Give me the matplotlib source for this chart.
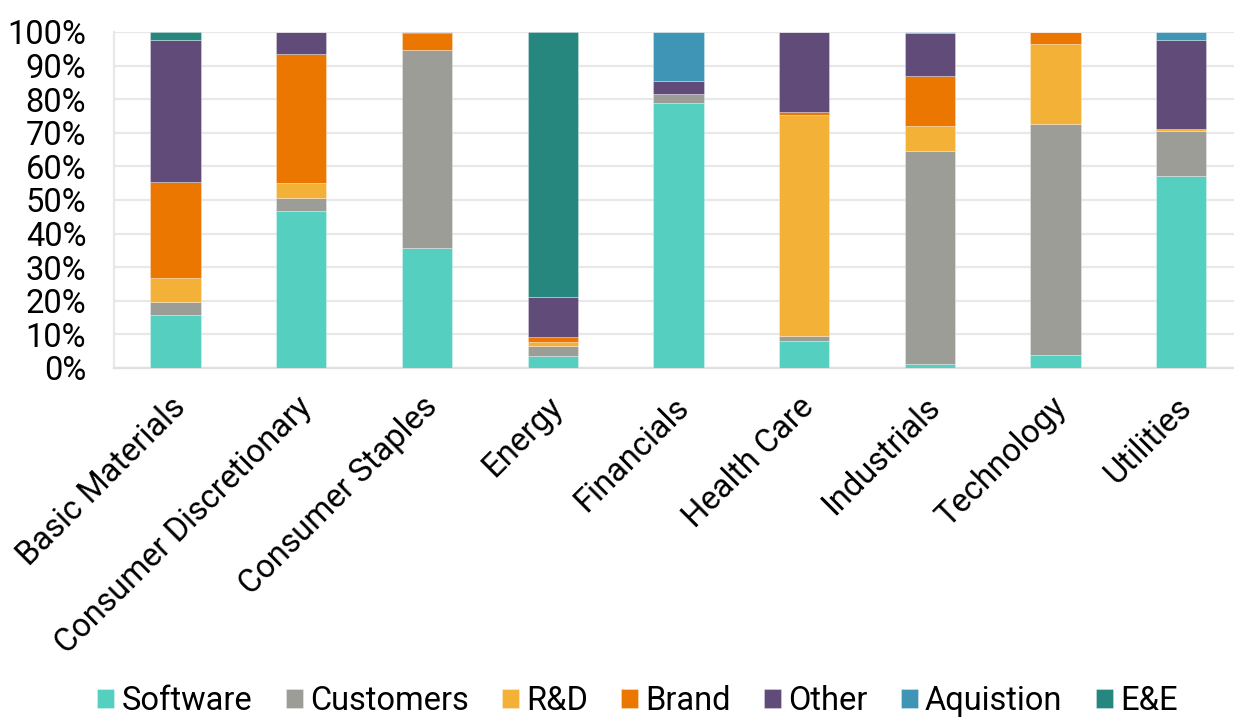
import matplotlib.pyplot as plt
import matplotlib.transforms as mtransforms
import numpy as np
from matplotlib.ticker import PercentFormatter

plt.rcParams['font.family'] = ['Roboto', 'DejaVu Sans']

sectors = ["Basic Materials", "Consumer Discretionary", "Consumer Staples", "Energy",
           "Financials", "Health Care", "Industrials", "Technology", "Utilities"]

# share of intangibles by type, % per sector
software   = [15.7, 46.7, 35.8, 3.5, 78.8, 8.1, 1.1, 3.8, 57.2]
customers  = [3.8, 4.0, 58.7, 2.9, 2.6, 1.4, 63.6, 68.7, 13.2]
rnd        = [7.4, 4.2, 0.0, 1.4, 0.0, 65.7, 7.2, 23.8, 0.6]
brand      = [28.3, 38.5, 5.2, 1.5, 0.2, 0.9, 14.9, 3.7, 0.0]
other      = [42.5, 6.6, 0.3, 11.8, 3.9, 23.9, 13.0, 0.0, 26.7]
aquisition = [0.0, 0.0, 0.0, 0.0, 14.5, 0.0, 0.2, 0.0, 2.3]
ee         = [2.3, 0.0, 0.0, 78.9, 0.0, 0.0, 0.0, 0.0, 0.0]

series = [("Software", software, "#55cfc0"),
          ("Customers", customers, "#9d9d97"),
          ("R&D", rnd, "#f3b137"),
          ("Brand", brand, "#eb7700"),
          ("Other", other, "#614b78"),
          ("Aquistion", aquisition, "#3f95b5"),
          ("E&E", ee, "#25877d")]

fig = plt.figure(figsize=(12.34, 7.18), dpi=100)
ax = fig.add_axes([0.0924, 0.4875, 0.9076, 0.468])

x = np.arange(len(sectors))
bottom = np.zeros(len(sectors))
for name, vals, color in series:
    vals = np.array(vals)
    ax.bar(x, vals, 0.4, bottom=bottom, color=color, label=name,
           edgecolor=(1, 1, 1, 0.35), linewidth=0.6, zorder=3)
    bottom += vals

ax.set_ylim(0, 100)
ax.set_xlim(-0.49, 8.42)
ax.set_yticks(np.arange(0, 101, 10))
ax.yaxis.set_major_formatter(PercentFormatter(decimals=0))
ax.grid(axis='y', color='#e8e8e8', linewidth=1.6, zorder=0)
ax.tick_params(axis='both', length=0, labelsize=23.5)
ax.tick_params(axis='y', pad=20)
ax.tick_params(axis='x', pad=16.5)
ax.set_xticks(x)
ax.set_xticklabels(sectors, rotation=45, ha='right', rotation_mode='anchor')
shift = mtransforms.ScaledTranslation(-0.06, 0, fig.dpi_scale_trans)
for lbl in ax.get_xticklabels():
    lbl.set_transform(lbl.get_transform() + shift)
for side in ['top', 'right']:
    ax.spines[side].set_visible(False)
ax.spines['left'].set_color('#e8e8e8')
ax.spines['left'].set_linewidth(1.6)
ax.spines['bottom'].set_color('#e0e0e0')
ax.spines['bottom'].set_linewidth(1.6)

fig.legend(loc='lower center', bbox_to_anchor=(0.5166, -0.039), ncol=7, frameon=False,
           fontsize=23.5, handlelength=0.52, handleheight=0.52, handletextpad=0.22,
           columnspacing=1.02)

fig.savefig("out.png", dpi=100)
